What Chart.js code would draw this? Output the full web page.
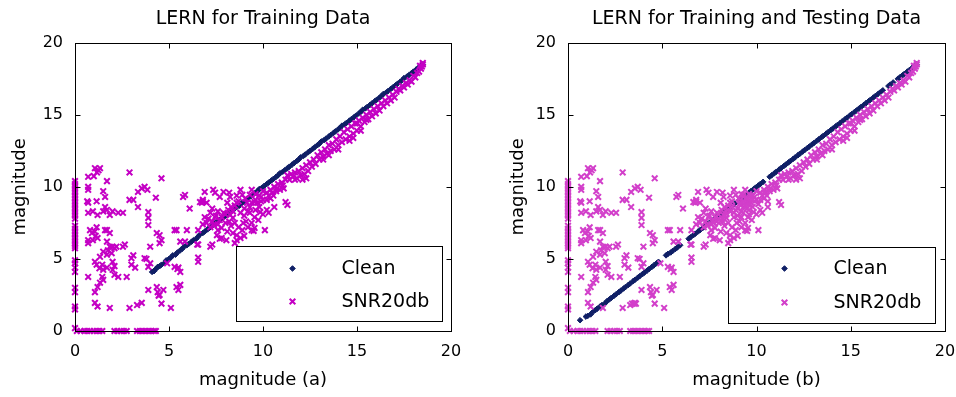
<!DOCTYPE html>
<html>
<head>
<meta charset="utf-8">
<script src="https://cdn.jsdelivr.net/npm/chart.js@4.4.1/dist/chart.umd.min.js"></script>
<style>
  html, body { margin: 0; padding: 0; background: #fff; }
  #wrap { position: relative; width: 956px; height: 397px; overflow: hidden; }
  canvas { position: absolute; top: 0; }
  #chartA { left: 0; }
  #chartB { left: 478px; }
</style>
</head>
<body>
<div id="wrap">
  <canvas id="chartA" width="478" height="397"></canvas>
  <canvas id="chartB" width="478" height="397"></canvas>
</div>
<script>
// tick values shared by both axes of both plots
const tickValues = [0, 5, 10, 15, 20];

const titles = ["LERN for Training Data", "LERN for Training and Testing Data"];
const xLabels = ["magnitude (a)", "magnitude (b)"];
const seriesNames = ["Clean", "SNR20db"];

// Clean points, training only (a)
const cleanA = [[4.1,4.1],[4.2,4.15],[4.3,4.3],[4.4,4.45],[4.5,4.5],[4.6,4.6],[4.75,4.7],[4.85,4.9],[5.0,5.0],[5.1,5.1],[5.2,5.25],[5.35,5.3],[5.45,5.45],[5.6,5.6],[5.7,5.7],[5.8,5.85],[5.95,5.95],[6.05,6.05],[6.2,6.2],[6.3,6.3],[6.45,6.4],[6.55,6.55],[6.65,6.7],[6.8,6.8],[6.9,6.9],[7.05,7.05],[7.15,7.15],[7.3,7.3],[7.4,7.4],[7.5,7.55],[7.65,7.65],[7.75,7.75],[7.9,7.9],[8.0,8.0],[8.1,8.15],[8.25,8.25],[8.35,8.35],[8.5,8.5],[8.6,8.6],[8.75,8.7],[8.85,8.85],[8.95,8.95],[9.1,9.1],[9.2,9.2],[9.35,9.35],[9.45,9.45],[9.6,9.6],[9.7,9.7],[9.8,9.85],[9.95,9.95],[10.05,10.05],[10.2,10.2],[10.3,10.3],[10.45,10.45],[10.55,10.55],[10.7,10.7],[10.8,10.8],[10.9,10.95],[11.05,11.05],[11.15,11.15],[11.3,11.3],[11.4,11.4],[11.55,11.55],[11.65,11.65],[11.8,11.8],[11.9,11.9],[12.0,12.05],[12.15,12.15],[12.25,12.25],[12.4,12.4],[12.5,12.5],[12.65,12.65],[12.75,12.75],[12.9,12.9],[13.0,13.0],[13.1,13.15],[13.25,13.25],[13.35,13.35],[13.5,13.5],[13.6,13.6],[13.75,13.75],[13.85,13.85],[14.0,14.0],[14.1,14.1],[14.2,14.25],[14.35,14.35],[14.45,14.45],[14.6,14.6],[14.7,14.7],[14.85,14.85],[14.95,14.95],[15.1,15.1],[15.2,15.2],[15.3,15.35],[15.45,15.45],[15.55,15.55],[15.7,15.7],[15.8,15.8],[15.95,15.95],[16.05,16.05],[16.2,16.2],[16.3,16.3],[16.4,16.45],[16.55,16.55],[16.65,16.65],[16.8,16.8],[16.9,16.9],[17.05,17.05],[17.15,17.15],[17.3,17.3],[17.4,17.4],[17.5,17.55],[17.65,17.65],[17.75,17.75],[17.9,17.9],[18.0,18.0],[18.15,18.15],[18.25,18.25],[18.4,18.4],[18.5,18.5]];

// Clean points, training + testing (b)
const cleanB = [[0.64,0.75],[0.95,1.0],[1.05,1.05],[1.2,1.15],[1.3,1.3],[1.45,1.45],[1.55,1.55],[1.7,1.7],[1.8,1.8],[1.95,1.9],[2.05,2.05],[2.2,2.2],[2.3,2.3],[2.45,2.45],[2.55,2.55],[2.7,2.7],[2.8,2.8],[2.95,2.95],[3.05,3.05],[3.2,3.2],[3.3,3.3],[3.45,3.45],[3.55,3.55],[3.7,3.7],[3.8,3.8],[3.95,3.95],[4.05,4.05],[4.2,4.2],[4.3,4.3],[4.45,4.45],[4.55,4.55],[4.7,4.7],[4.8,4.8],
  [5.2,5.25],[5.3,5.35],[5.45,5.45],[5.55,5.55],[5.7,5.7],[5.8,5.8],[5.95,5.95],
  [6.4,6.4],[6.5,6.5],[6.65,6.65],[6.75,6.75],[6.9,6.9],[7.0,7.0],[7.15,7.15],[7.25,7.25],[7.4,7.4],[7.5,7.5],[7.65,7.65],[7.75,7.75],[7.9,7.9],[8.0,8.0],[8.15,8.15],[8.25,8.25],[8.4,8.4],[8.5,8.5],[8.65,8.65],[8.75,8.75],[8.85,8.85],
  [9.1,9.1],[9.2,9.2],[9.35,9.35],[9.45,9.45],[9.6,9.6],[9.7,9.7],[9.85,9.85],[9.95,9.95],[10.1,10.1],[10.2,10.2],[10.35,10.35],
  [10.7,10.7],[10.8,10.8],[10.95,10.95],[11.05,11.05],[11.2,11.2],[11.3,11.3],[11.45,11.45],[11.55,11.55],[11.7,11.7],[11.8,11.8],[11.95,11.95],[12.05,12.05],[12.2,12.2],[12.3,12.3],[12.45,12.45],[12.55,12.55],[12.7,12.7],[12.8,12.8],[12.95,12.95],[13.05,13.05],[13.2,13.2],[13.3,13.3],[13.45,13.45],[13.55,13.55],[13.7,13.7],[13.8,13.8],[13.95,13.95],[14.05,14.05],[14.2,14.2],[14.3,14.3],[14.45,14.45],[14.55,14.55],[14.7,14.7],[14.8,14.8],[14.95,14.95],[15.05,15.05],[15.2,15.2],[15.3,15.3],[15.45,15.45],[15.55,15.55],[15.7,15.7],[15.8,15.8],[15.95,15.95],[16.05,16.05],[16.2,16.2],[16.3,16.3],[16.45,16.45],[16.55,16.55],[16.7,16.7],
  [17.0,17.0],[17.1,17.1],[17.25,17.25],
  [17.5,17.5],[17.6,17.6],[17.75,17.75],[17.85,17.85],[18.0,18.0],[18.1,18.1],[18.25,18.25],[18.35,18.35],[18.5,18.5]];

// SNR20db points lying on the axes (x = 0 column, y = 0 row)
const snrAxis = [[0,10.4],[0,10.2],[0,10.0],[0,9.8],[0,9.6],[0,9.4],[0,9.2],[0,9.0],[0,8.8],[0,8.6],[0,8.4],[0,8.2],[0,8.0],[0,7.8],[0,7.3],[0,7.1],[0,6.9],[0,6.7],[0,6.5],[0,6.3],[0,6.1],[0,5.9],[0,5.75],[0,4.9],[0,4.7],[0,4.4],[0,4.1],[0,3.0],[0,2.7],[0,1.7],[0,1.5],[0,0.2],
  [0.1,0],[0.3,0],[0.5,0],[0.65,0],[0.8,0],[1.0,0],[1.15,0],[1.3,0],[1.45,0],[2.1,0],[2.25,0],[2.45,0],[2.6,0],[2.75,0],[3.3,0],[3.45,0],[3.6,0],[3.75,0],[3.9,0],[4.05,0],[4.2,0],[4.3,0]];

// SNR20db scattered points (low magnitudes and the mid cluster)
const snrScatter = [[1.06,11.3],[1.17,11.0],[1.33,11.3],[1.25,11.15],[1.0,10.75],[0.7,10.7],[1.7,10.4],[2.9,11.0],[4.6,10.6],
  [0.7,10.0],[0.7,9.8],[1.5,9.7],[1.6,9.3],[3.35,9.65],[3.55,9.9],[3.7,10.0],[3.85,9.8],[4.3,9.25],
  [0.65,9.0],[0.7,8.9],[1.15,9.0],[1.6,8.6],[1.7,8.4],[2.9,9.1],[3.1,9.1],[3.35,8.6],
  [0.7,8.2],[0.95,8.3],[1.2,8.05],[1.5,8.3],[1.85,8.05],[2.0,8.3],[2.3,8.2],[2.55,8.2],
  [3.9,8.25],[3.9,7.85],[3.9,7.35],
  [0.8,7.0],[0.9,6.8],[1.05,6.9],[1.15,7.2],[0.7,6.3],[0.7,6.1],[1.2,6.45],[0.95,6.3],[1.1,6.6],
  [1.7,7.0],[1.85,6.8],[1.6,7.0],[1.7,6.2],[1.85,5.85],[2.0,5.85],[2.2,5.85],
  [1.5,5.5],[1.75,5.6],[1.95,5.4],[2.1,5.75],[2.55,5.85],[1.33,5.15],[1.7,5.3],[2.65,6.0],
  [1.06,4.8],[1.45,4.6],[1.5,4.25],[1.7,4.4],[1.15,4.6],[1.3,4.35],
  [2.0,4.25],[2.1,3.9],[2.3,3.75],[2.0,4.8],[2.1,4.5],[2.75,3.75],
  [3.0,5.05],[3.1,5.25],[3.0,4.6],[3.2,4.4],[3.7,5.05],[3.9,4.45],[3.8,5.0],[4.0,4.7],
  [1.45,3.75],[1.5,3.55],[1.33,3.35],[1.2,3.05],[1.06,2.7],[0.7,3.75],
  [1.06,1.95],[1.2,1.7],[1.85,1.6],[2.9,1.6],[3.3,1.8],[3.55,1.95],
  [3.9,2.85],[4.35,3.05],[4.4,2.7],[4.5,2.5],[4.45,2.45],[4.7,2.85],[4.6,1.9],[5.1,1.6],
  [5.4,3.05],[5.5,2.85],[5.6,3.2],[5.5,4.4],[5.3,4.45],[5.6,4.1],[5.45,4.3],
  [4.5,6.1],[4.6,6.3],[4.5,6.65],[4.35,6.8],[4.0,5.85],
  [5.3,7.0],[5.95,7.0],[5.75,9.3],[6.1,8.5],[6.55,7.0],[6.5,6.0],[6.55,5.1],[6.55,4.8],[4.9,4.7],[5.85,6.2],[5.6,6.2],
  [7.2,5.85],[7.3,6.0],[7.7,6.4],[8.05,6.3],
  [5.85,9.44],[6.65,8.95],[6.8,9.1],[6.75,8.9],[6.9,9.65],[7.35,9.8],[7.45,9.6],[7.9,9.65],[8.25,9.3],[8.8,9.8],[9.05,9.2],
  [7.2,8.2],[7.45,7.9],[7.7,7.7],[7.0,7.5],[6.8,7.4],[7.2,7.2],[8.1,8.9],[8.15,8.4],[8.25,8.05],[8.4,7.85],
  [7.8,7.15],[8.1,6.9],[8.0,7.5],[7.55,6.65],[7.8,6.45],[8.6,6.65],[8.8,6.45],[8.6,6.3],
  [8.95,7.5],[9.2,7.2],[9.4,7.0],[9.55,7.15],[9.3,8.2],[9.55,7.9],[9.85,8.25],[9.75,7.7],
  [9.15,8.9],[9.3,8.6],[9.55,8.95],[8.9,9.45],[9.3,9.45],[10.2,8.4],[10.3,8.2],[10.1,7.0],
  [11.2,8.95],[11.3,8.75],[10.2,9.1],[10.4,9.2],[6.55,6.0],[5.4,7.0],
  [7.5,8.0],[7.9,8.2],[8.5,8.7],[8.7,9.0],[9.0,8.0],[8.3,7.3],[9.6,9.5],[9.9,9.0],[10.0,9.7],
  [7.3,7.6],[7.6,7.4],[7.4,7.3],[7.8,7.9],[7.6,8.3],[7.3,8.5],[8.0,8.1],[8.3,8.6],[8.4,8.3],[8.6,8.9],[8.2,7.6],[8.5,7.5],[8.7,7.2],[8.9,7.0],[9.1,7.6],[9.0,8.5],[9.2,8.3],[8.8,8.2],[9.6,8.4],[9.4,7.5],[9.8,8.6],[7.1,7.8],[6.9,7.9],[7.7,9.3],[8.2,9.6],[8.6,9.4],[9.4,9.8],[9.8,9.4],[7.6,7.0],[8.4,6.8],[8.5,6.1],[9.5,6.95],[9.0,6.6],[6.8,9.0],[7.0,8.9],[10.6,8.6],[10.0,8.1]];

// SNR20db band just under the clean diagonal
const snrBand = [[9.4,8.9],[9.6,9.1],[9.7,8.9],[9.9,9.3],[10.0,9.1],[10.2,9.6],[10.3,9.4],[10.4,9.8],[10.5,9.6],[10.6,10.0],[10.7,9.7],[10.8,10.2],[10.9,9.8],[11.0,10.3],[11.1,9.9],[10.55,9.4],[10.75,9.9],[11.05,10.1],
  [11.2,10.5],[11.3,10.8],[11.4,10.5],[11.5,10.9],[11.6,10.7],[11.7,11.0],[11.8,10.6],[11.9,11.1],[12.0,10.8],[12.1,11.3],[12.2,10.9],[12.3,11.5],[12.4,11.1],[12.5,11.7],[12.3,10.6],[12.1,10.5],[11.7,10.5],[12.6,11.4],[12.7,11.9],[12.8,11.6],
  [12.9,12.2],[13.0,11.9],[13.1,12.4],[13.2,12.1],[13.3,12.6],[13.4,12.3],[13.5,12.9],[13.6,12.5],[13.7,13.0],[13.8,12.6],[13.9,13.3],[14.0,12.9],[14.1,13.5],[14.2,13.1],[14.3,13.8],[14.4,13.3],[14.5,14.0],[14.6,13.5],[14.7,14.2],[14.8,13.7],[14.9,14.4],[15.0,13.9],[14.0,12.6],[14.6,13.2],[14.8,13.4],[13.5,12.2],[13.2,11.9],
  [15.1,14.6],[15.2,14.2],[15.3,14.8],[15.4,14.5],[15.5,15.0],[15.6,14.7],[15.7,15.2],[15.8,14.9],[15.9,15.4],[16.0,15.1],[16.1,15.6],[16.2,15.3],[16.3,15.8],[16.4,15.6],[16.5,16.0],[16.6,15.8],[16.7,16.2],[16.8,16.0],[16.9,16.4],[17.0,16.2],[15.5,14.65],[15.0,14.4],[15.2,13.9],
  [17.1,16.6],[17.2,16.8],[17.3,16.7],[17.4,17.0],[17.5,16.9],[17.6,17.2],[17.7,17.1],[17.8,17.4],[17.9,17.3],[18.0,17.7],[18.1,17.6],[18.2,17.9],[18.3,18.0],[18.4,18.2],[18.45,18.35],[18.5,18.5],[18.35,18.4],[18.5,18.6]];

// extra SNR20db points that appear only with the testing data (b)
const snrTestExtra = [[3.4,1.9],[3.5,1.9],[3.6,1.9],[9.3,9.0],[9.5,9.2],[9.6,8.8],[9.4,8.7],[9.7,9.4],[9.2,9.5],[8.4,8.1],[8.6,8.3],[8.2,7.8],[8.8,7.9],[7.9,7.6],[10.4,9.6],[10.6,9.0],
  [9.1,8.8],[9.3,9.3],[9.5,8.5],[9.8,9.1],[8.9,8.4],[8.7,8.6],[8.3,8.0],[8.0,7.8],[7.7,7.5],[9.2,7.9],[9.6,8.1],[10.1,8.8]];

const snrA = [...snrAxis, ...snrScatter, ...snrBand];
const snrB = [...snrAxis, ...snrScatter, ...snrBand, ...snrTestExtra];

const toPts = arr => arr.map(([x, y]) => ({ x, y }));
const FONT = "'DejaVu Sans', sans-serif";

// axes box with inward ticks + MATLAB-style boxed legend
const matlabBox = {
    id: "matlabBox",
    afterDatasetsDraw(chart, args, opts) {
        const { ctx, chartArea: a, scales } = chart;
        const l = Math.round(a.left) + 0.5, r = Math.round(a.right) + 0.5;
        const t = Math.round(a.top) + 0.5, b = Math.round(a.bottom) + 0.5;
        ctx.save();
        ctx.strokeStyle = "#000";
        ctx.lineWidth = 1;
        ctx.strokeRect(l, t, r - l, b - t);

        ctx.beginPath();
        scales.x.ticks.forEach(tk => {
            if (tk.value <= scales.x.min || tk.value >= scales.x.max) return;
            const px = Math.round(scales.x.getPixelForValue(tk.value)) + 0.5;
            ctx.moveTo(px, b); ctx.lineTo(px, b - 5);
            ctx.moveTo(px, t); ctx.lineTo(px, t + 5);
        });
        scales.y.ticks.forEach(tk => {
            if (tk.value <= scales.y.min || tk.value >= scales.y.max) return;
            const py = Math.round(scales.y.getPixelForValue(tk.value)) + 0.5;
            ctx.moveTo(l, py); ctx.lineTo(l + 5, py);
            ctx.moveTo(r, py); ctx.lineTo(r - 5, py);
        });
        ctx.stroke();

        // legend box
        const bx = Math.round(a.right - opts.right - opts.w) + 0.5;
        const by = Math.round(a.bottom - opts.bottom - opts.h) + 0.5;
        ctx.fillStyle = "#fff";
        ctx.fillRect(bx, by, opts.w, opts.h);
        ctx.strokeRect(bx, by, opts.w, opts.h);

        chart.data.datasets.forEach((ds, i) => {
            const my = by + opts.rows[i];
            ctx.save();
            ctx.fillStyle = ds.backgroundColor;
            ctx.strokeStyle = ds.borderColor;
            ctx.lineWidth = ds.borderWidth;
            Chart.helpers.drawPoint(ctx, {
                pointStyle: ds.pointStyle, radius: ds.pointRadius,
                borderWidth: ds.borderWidth, rotation: 0
            }, bx + 56, my);
            ctx.restore();
            ctx.font = "19px " + FONT;
            ctx.textBaseline = "middle";
            ctx.textAlign = "left";
            ctx.fillStyle = "#000";
            ctx.fillText(ds.label, bx + 105, my + 1);
        });
        ctx.restore();
    }
};

function makeChart(id, idx, clean, snr, snrColor, layout) {
    const ctx = document.getElementById(id).getContext("2d");
    return new Chart(ctx, {
        type: "scatter",
        data: {
            datasets: [{
                label: seriesNames[0],
                data: toPts(clean),
                pointStyle: "rectRot",
                pointRadius: 2.8,
                borderWidth: 1,
                backgroundColor: "#0f1f66",
                borderColor: "#0f1f66",
                order: 2,
                clip: false
            }, {
                label: seriesNames[1],
                data: toPts(snr),
                pointStyle: "crossRot",
                pointRadius: 4,
                borderWidth: 2,
                backgroundColor: snrColor,
                borderColor: snrColor,
                order: 1,
                clip: false
            }]
        },
        options: {
            responsive: false,
            animation: false,
            events: [],
            layout: { padding: { left: 0, right: layout.padRight, top: 0, bottom: 0 } },
            plugins: {
                legend: { display: false },
                tooltip: { enabled: false },
                title: {
                    display: true,
                    text: titles[idx],
                    color: "#000",
                    fullSize: false,
                    font: { family: FONT, size: 19, weight: "normal" },
                    padding: { top: 8, bottom: 12 }
                },
                matlabBox: layout.legend
            },
            scales: {
                x: {
                    type: "linear",
                    min: 0, max: 20,
                    afterBuildTicks: s => { s.ticks = tickValues.map(v => ({ value: v })); },
                    afterFit: s => { s.height = 66; s.paddingLeft = 0; s.paddingRight = 0; },
                    grid: { display: false, drawTicks: false },
                    border: { display: false },
                    ticks: { color: "#000", padding: 11, font: { family: FONT, size: 16 } },
                    title: {
                        display: true, text: xLabels[idx], color: "#000",
                        font: { family: FONT, size: 18 },
                        padding: { top: 0, bottom: 6 }
                    }
                },
                y: {
                    type: "linear",
                    min: 0, max: 20,
                    afterBuildTicks: s => { s.ticks = tickValues.map(v => ({ value: v })); },
                    afterFit: s => { s.width = layout.yWidth; },
                    grid: { display: false, drawTicks: false },
                    border: { display: false },
                    ticks: { color: "#000", padding: 12, font: { family: FONT, size: 16 } },
                    title: {
                        display: true, text: "magnitude", color: "#000",
                        font: { family: FONT, size: 18 },
                        padding: { top: layout.yTitlePad, bottom: 0 }
                    }
                }
            }
        },
        plugins: [matlabBox]
    });
}

makeChart("chartA", 0, cleanA, snrA, "#c400c4", {
    padRight: 27, yWidth: 75, yTitlePad: 10,
    legend: { right: 9, bottom: 10, w: 206, h: 75, rows: [22, 55] }
});
makeChart("chartB", 1, cleanB, snrB, "#d23fca", {
    padRight: 11, yWidth: 90, yTitlePad: 30,
    legend: { right: 10, bottom: 8, w: 207, h: 76, rows: [21, 55] }
});
</script>
</body>
</html>
